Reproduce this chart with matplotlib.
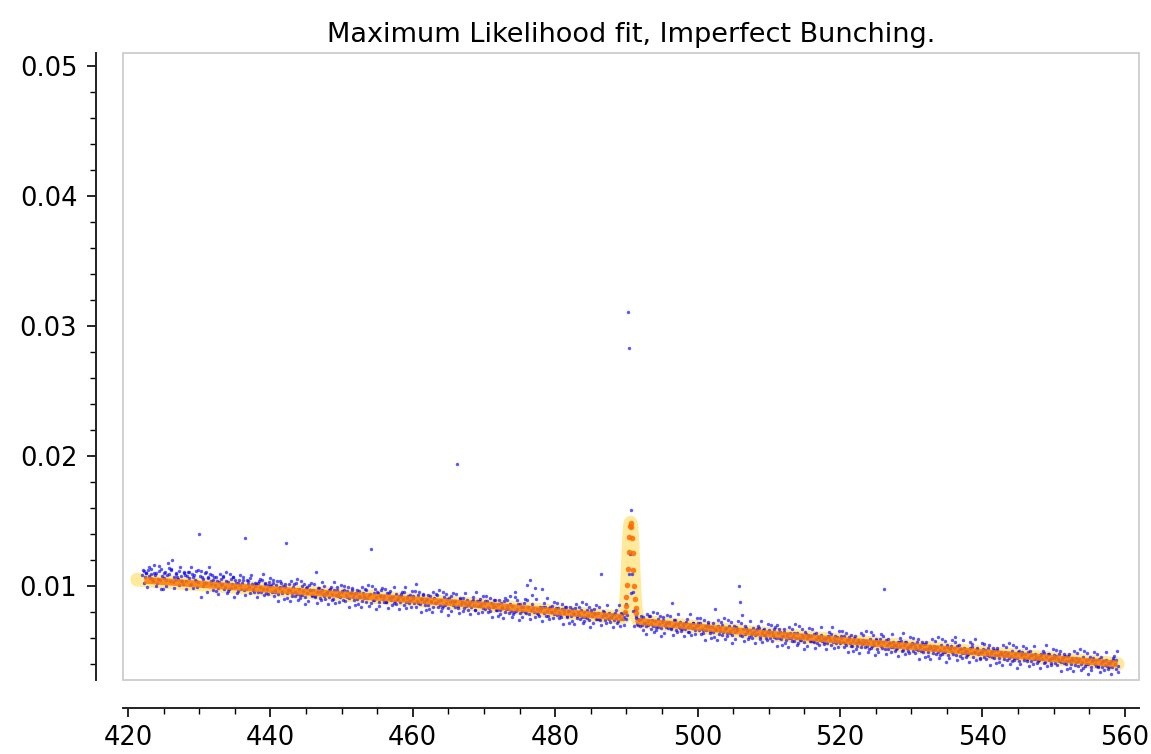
import numpy as np
import matplotlib
matplotlib.use("Agg")
import matplotlib.pyplot as plt
from matplotlib.patches import Rectangle
from matplotlib.ticker import MultipleLocator

title = "Maximum Likelihood fit, Imperfect Bunching."

# observed data, set A (x grid start/step, y in units of 1e-5)
data_a_x_start = 422.0
data_a_y_e5 = [
    1085, 1112, 1068, 1097, 1120, 1074, 1091, 1055, 1103, 1082,
    1098, 1052, 1115, 980, 1076, 1064, 1108, 1047, 1180, 1089,
    1121, 1200, 1069, 1043, 1094, 1058, 1112, 1077, 1036, 1101,
    1088, 1037, 1106, 1061, 1019, 1095, 1072, 1049, 1118, 1030,
    1400, 915, 1066, 1052, 1097, 1024, 1071, 1146, 1038, 1083,
    1047, 1008, 1069, 985, 1033, 1058, 1012, 1074, 996, 1041,
    1032, 976, 1054, 1017, 1068, 991, 1026, 960, 1043, 1005,
    1021, 1049, 1373, 978, 1035, 993, 1060, 1012, 969, 1027,
    1014, 956, 1038, 992, 1047, 975, 1019, 943, 1006, 1031,
    998, 952, 1024, 969, 1011, 937, 985, 1042, 961, 1003,
    989, 1335, 947, 1012, 970, 925, 996, 958, 1021, 941,
    977, 932, 1003, 961, 916, 988, 945, 1009, 966, 929,
    968, 921, 1110, 954, 987, 910, 973, 936, 998, 950,
    957, 913, 981, 940, 902, 966, 928, 990, 945, 919,
    951, 896, 972, 928, 960, 905, 943, 982, 917, 938,
    944, 899, 961, 918, 882, 950, 925, 973, 906, 931,
    936, 1283, 892, 948, 914, 957, 879, 925, 968, 903,
    927, 881, 944, 906, 962, 890, 918, 871, 935, 899,
    921, 874, 939, 897, 952, 880, 911, 866, 928, 890,
    910, 870, 1012, 888, 929, 859, 901, 941, 876, 893,
    903, 855, 921, 877, 842, 909, 868, 930, 884, 851,
    893, 849, 914, 869, 900, 833, 877, 922, 858, 881,
    886, 1938, 845, 899, 862, 911, 828, 870, 893, 851,
    877, 836, 890, 852, 818, 883, 846, 899, 861, 829,
    868, 824, 882, 841, 806, 873, 835, 889, 850, 817,
    859, 814, 871, 830, 882, 797, 846, 820, 864, 808,
    850, 803, 954, 821, 862, 790, 838, 811, 866, 799,
    1008, 838, 1043, 815, 929, 800, 985, 823, 786, 841,
    829, 980, 795, 842, 808, 770, 833, 801, 848, 785,
    818, 776, 831, 797, 759, 822, 790, 840, 771, 808,
    809, 768, 822, 787, 834, 752, 799, 777, 815, 760,
    798, 759, 812, 776, 741, 804, 768, 822, 783, 750,
    790, 748, 1090, 771, 804, 737, 779, 752, 796, 761,
    777, 742, 789, 756, 728, 770, 745, 782, 759, 790,
    860, 3110, 2830, 1585, 1095, 954, 812, 752, 701, 738,
    745, 703, 759, 718, 690, 734, 769, 711, 742, 696,
    730, 688, 748, 705, 676, 721, 762, 699, 683, 727,
    719, 676, 870, 691, 735, 664, 708, 682, 724, 671,
    711, 667, 725, 684, 650, 703, 677, 719, 660, 694,
    699, 658, 716, 670, 641, 690, 665, 709, 684, 652,
    688, 649, 820, 661, 695, 633, 679, 702, 645, 672,
    679, 640, 693, 655, 624, 671, 647, 686, 660, 1000,
    876, 780, 668, 632, 681, 646, 611, 659, 637, 674,
    622, 663, 632, 674, 608, 642, 665, 624, 597, 648,
    639, 597, 648, 626, 667, 604, 700, 597, 650, 613,
    616, 650, 584, 631, 601, 642, 577, 615, 640, 599,
    639, 601, 581, 627, 610, 571, 628, 600, 617, 580,
    618, 579, 632, 596, 565, 610, 587, 627, 601, 570,
    600, 558, 609, 587, 628, 566, 590, 558, 611, 575,
    563, 604, 573, 615, 549, 584, 605, 565, 538, 575,
    600, 562, 542, 588, 571, 532, 588, 561, 578, 541,
    559, 593, 526, 573, 543, 584, 519, 564, 590, 541,
    570, 977, 583, 546, 515, 558, 533, 572, 547, 516,
    525, 566, 536, 577, 511, 546, 567, 527, 500, 537,
    543, 501, 551, 530, 571, 508, 532, 501, 554, 517,
    553, 515, 495, 541, 524, 485, 542, 514, 531, 494,
    511, 545, 478, 525, 494, 531, 471, 516, 542, 494,
    523, 610, 535, 498, 463, 512, 486, 525, 500, 469,
    478, 570, 488, 530, 494, 493, 515, 474, 445, 490,
    496, 454, 505, 483, 524, 462, 483, 454, 507, 470,
    506, 468, 448, 494, 477, 437, 494, 467, 484, 447,
    465, 499, 432, 479, 448, 489, 425, 470, 496, 448,
    477, 435, 489, 453, 422, 467, 441, 480, 454, 423,
    431, 472, 441, 483, 417, 451, 474, 433, 405, 443,
    450, 408, 460, 437, 478, 416, 437, 408, 461, 424,
    460, 422, 402, 448, 431, 392, 449, 421, 438, 400,
    418, 452, 385, 432, 401, 442, 378, 423, 449, 401,
    430, 388, 442, 406, 375, 420, 395, 434, 407, 376,
    421, 378, 446, 398, 433, 386,
]

# observed data, set B (interleaved x grid, y in units of 1e-5)
data_b_x_start = 422.1
data_b_y_e5 = [
    1126, 1020, 1099, 994, 1148, 1062, 1131, 1035, 1165, 1004,
    1023, 1152, 1046, 1131, 975, 1104, 1003, 1082, 1142, 1036,
    1130, 1029, 988, 1103, 1072, 1006, 1145, 1039, 1014, 1108,
    977, 1081, 1110, 1010, 1149, 988, 1082, 1041, 996, 1120,
    1079, 1118, 997, 1027, 1106, 957, 1061, 1093, 1013, 972,
    1066, 960, 1039, 935, 1089, 1005, 1071, 976, 1105, 944,
    963, 1092, 987, 1071, 916, 1045, 944, 1023, 1083, 976,
    1070, 969, 928, 1043, 1012, 946, 1085, 979, 954, 998,
    917, 1021, 1051, 951, 1089, 929, 1022, 981, 936, 1060,
    1009, 1048, 927, 957, 1036, 886, 990, 1023, 943, 897,
    1014, 908, 967, 882, 1036, 950, 1019, 923, 1053, 892,
    908, 1037, 932, 1016, 861, 990, 888, 967, 1027, 921,
    1015, 914, 873, 988, 957, 891, 1030, 924, 899, 943,
    862, 966, 995, 895, 1034, 872, 967, 926, 881, 1005,
    964, 1003, 882, 912, 991, 840, 944, 973, 893, 852,
    971, 865, 924, 839, 993, 907, 976, 880, 1010, 849,
    868, 997, 891, 976, 820, 949, 848, 927, 987, 881,
    975, 874, 833, 948, 917, 851, 990, 884, 859, 903,
    822, 926, 955, 855, 994, 832, 927, 886, 840, 965,
    924, 963, 842, 872, 951, 800, 904, 933, 853, 812,
    931, 825, 884, 799, 953, 867, 936, 840, 970, 809,
    828, 957, 851, 936, 780, 909, 808, 887, 947, 841,
    935, 834, 793, 908, 877, 811, 950, 844, 819, 863,
    782, 886, 915, 815, 954, 792, 887, 846, 800, 925,
    884, 923, 802, 832, 911, 760, 864, 892, 812, 771,
    889, 783, 841, 755, 909, 822, 890, 795, 924, 762,
    784, 913, 807, 891, 735, 864, 763, 841, 901, 795,
    889, 788, 747, 861, 830, 764, 902, 796, 771, 814,
    734, 838, 867, 766, 905, 744, 839, 797, 751, 876,
    834, 873, 752, 781, 860, 710, 813, 841, 761, 719,
    839, 733, 791, 705, 859, 772, 840, 745, 874, 712,
    734, 863, 757, 840, 685, 814, 713, 791, 851, 745,
    839, 738, 697, 811, 780, 714, 852, 746, 721, 764,
    684, 788, 817, 716, 855, 694, 789, 747, 701, 745,
    780, 1090, 1250, 950, 810, 690, 770, 705, 745, 690,
    767, 661, 719, 633, 787, 701, 767, 672, 802, 650,
    662, 791, 685, 767, 613, 742, 641, 718, 779, 675,
    767, 666, 625, 739, 709, 643, 782, 676, 651, 695,
    612, 716, 745, 644, 783, 622, 717, 674, 630, 755,
    712, 751, 630, 660, 739, 588, 692, 720, 640, 597,
    717, 611, 670, 584, 738, 653, 722, 626, 756, 595,
    612, 741, 636, 720, 564, 692, 592, 670, 729, 625,
    717, 616, 575, 690, 659, 593, 732, 626, 601, 645,
    562, 666, 695, 595, 734, 573, 667, 626, 581, 705,
    661, 700, 579, 609, 688, 537, 641, 669, 589, 548,
    666, 560, 619, 533, 688, 602, 671, 576, 705, 544,
    562, 691, 586, 670, 514, 643, 542, 620, 680, 575,
    667, 566, 525, 640, 609, 543, 682, 576, 551, 595,
    512, 616, 645, 545, 684, 523, 617, 576, 531, 655,
    613, 652, 531, 561, 640, 489, 593, 622, 542, 501,
    618, 512, 571, 485, 640, 554, 623, 528, 656, 496,
    514, 643, 538, 622, 466, 595, 494, 572, 632, 527,
    619, 518, 477, 592, 561, 495, 634, 528, 503, 547,
    465, 569, 598, 498, 637, 476, 570, 529, 484, 608,
    565, 604, 483, 513, 592, 441, 545, 573, 493, 452,
    571, 465, 524, 438, 593, 507, 576, 480, 609, 449,
    466, 595, 490, 574, 418, 547, 446, 524, 584, 479,
    572, 471, 430, 545, 514, 448, 587, 481, 456, 500,
    418, 522, 551, 451, 590, 429, 523, 482, 437, 561,
    518, 557, 436, 466, 545, 394, 498, 526, 446, 405,
    524, 418, 477, 391, 546, 460, 529, 433, 562, 402,
    420, 549, 444, 528, 372, 501, 400, 478, 538, 433,
    526, 425, 384, 499, 468, 402, 541, 435, 410, 454,
    371, 475, 504, 404, 543, 382, 476, 435, 390, 514,
    472, 511, 390, 420, 499, 348, 452, 480, 400, 359,
    478, 372, 431, 345, 500, 414, 483, 387, 516, 356,
    373, 502, 397, 481, 325, 454, 353, 431, 491, 386,
    479, 378, 337, 452, 421, 355, 494, 388, 363, 407,
    325, 429, 458, 358, 497, 336,
]
data_x_step = 0.2

# fitted model curve (knots)
fit_x = [421.3, 422.0, 445.0, 470.0, 489.4, 489.6, 489.8, 489.9, 490.0, 490.1,
         490.2, 490.3, 490.4, 490.5, 490.6, 490.7, 490.8, 490.9, 491.0, 491.1,
         491.2, 491.3, 491.4, 491.6, 491.8, 510.0, 530.0, 559.0]
fit_y = [0.01049, 0.01046, 0.00954, 0.00854, 0.00757, 0.00762, 0.00804, 0.00843, 0.00913, 0.01011,
         0.01131, 0.01261, 0.01377, 0.01460, 0.01488, 0.01458, 0.01373, 0.01255, 0.01124, 0.01003,
         0.00903, 0.00831, 0.00790, 0.00745, 0.00728, 0.00631, 0.00535, 0.00400]

# model baseline segments either side of the peak
base_left_x = [422.3, 445.0, 470.0, 489.4, 489.6]
base_left_y = [0.01045, 0.00954, 0.00854, 0.00757, 0.00762]
base_right_x = [491.6, 491.8, 510.0, 530.0, 559.0]
base_right_y = [0.00745, 0.00728, 0.00631, 0.00535, 0.00400]

# model points on the peak
peak_x = [489.8, 489.9, 490.0, 490.1, 490.2, 490.3, 490.4, 490.5, 490.6, 490.7, 490.8, 490.9, 491.0, 491.1, 491.2, 491.3, 491.4]
peak_y = [0.00804, 0.00843, 0.00913, 0.01011, 0.01131, 0.01261, 0.01377, 0.01460, 0.01488, 0.01458, 0.01373, 0.01255,
          0.01124, 0.01003, 0.00903, 0.00831, 0.00790]

ya = np.array(data_a_y_e5) * 1e-5
xa = data_a_x_start + data_x_step * np.arange(len(ya))
yb = np.array(data_b_y_e5) * 1e-5
xb = data_b_x_start + data_x_step * np.arange(len(yb))
data_x = np.concatenate([xa, xb])
data_y = np.concatenate([ya, yb])

fig = plt.figure(figsize=(11.51, 7.54), dpi=100)
ax = fig.add_axes([123/1151, 1 - 680/754, (1139 - 123)/1151, (680 - 53)/754])

ax.plot(fit_x, fit_y, color="#ffd84a", lw=10, alpha=0.55, solid_capstyle="round",
        solid_joinstyle="round", zorder=1)
ax.scatter(data_x, data_y, s=6, color="blue", alpha=0.65, linewidths=0, zorder=2)
for bx, by in [(base_left_x, base_left_y), (base_right_x, base_right_y)]:
    ax.plot(bx, by, color="#ff7800", lw=5, alpha=0.85, solid_capstyle="butt", zorder=3)
ax.scatter(peak_x, peak_y, s=16, color="#ff6a00", alpha=0.85, linewidths=0, zorder=4)

ax.set_xlim(419.3, 562.0)
ax.set_ylim(0.00277, 0.05102)

ax.add_patch(Rectangle((0, 0), 1, 1, transform=ax.transAxes, fill=False,
                       edgecolor="#c8c8c8", lw=1.2, clip_on=False, zorder=0))
for s in ["top", "right"]:
    ax.spines[s].set_visible(False)
ax.spines["left"].set_position(("outward", 19.4))
ax.spines["bottom"].set_position(("outward", 20.2))
for s in ["left", "bottom"]:
    ax.spines[s].set_linewidth(1.4)
    ax.spines[s].set_color("#222222")

ax.xaxis.set_major_locator(MultipleLocator(20))
ax.xaxis.set_minor_locator(MultipleLocator(5))
ax.yaxis.set_major_locator(MultipleLocator(0.01))
ax.yaxis.set_minor_locator(MultipleLocator(0.002))
ax.tick_params(which="major", length=6.5, width=1.2, labelsize=18.5, direction="out")
ax.tick_params(axis="y", which="major", pad=7)
ax.tick_params(axis="x", which="major", pad=6)
ax.tick_params(which="minor", length=4.3, width=1.0, direction="out")
ax.set_yticks([0.01, 0.02, 0.03, 0.04, 0.05])
ax.set_yticklabels(["0.01", "0.02", "0.03", "0.04", "0.05"])

ax.set_title(title, fontsize=19.5, pad=8)

fig.savefig("out.png", dpi=100)
